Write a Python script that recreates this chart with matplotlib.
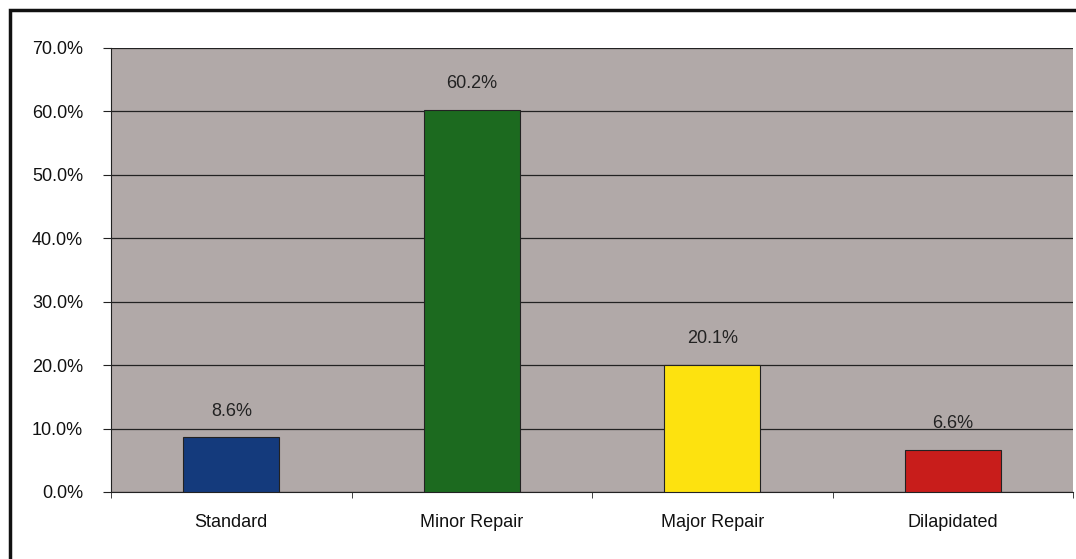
import matplotlib.pyplot as plt
from matplotlib.patches import Rectangle
from matplotlib.ticker import FuncFormatter, FixedLocator, NullFormatter

categories = ["Standard", "Minor Repair", "Major Repair", "Dilapidated"]
values = [8.6, 60.2, 20.1, 6.6]
bar_colors = ["#143a7c", "#1c6a1f", "#fde20f", "#c81d1b"]

plt.rcParams["font.family"] = ["Liberation Sans", "DejaVu Sans"]

fig = plt.figure(figsize=(10.76, 5.59), dpi=100)
ax = fig.add_axes([111 / 1076, 1 - 492 / 559, (1073 - 111) / 1076, (492 - 48) / 559])

# outer frame (runs off the right and bottom edge)
fig.patches.append(Rectangle((10 / 1076, -0.05), 1.1, 1 - 10 / 559 + 0.05,
                             transform=fig.transFigure, fill=False,
                             edgecolor="#111111", linewidth=2.5))

ax.set_facecolor("#b1a9a8")
x = list(range(len(categories)))
ax.bar(x, values, width=0.4, color=bar_colors, edgecolor="#222222", linewidth=0.8, zorder=3)

for xi, v in zip(x, values):
    ax.annotate(f"{v:.1f}%", (xi, v), xytext=(0, 19), textcoords="offset points",
                ha="center", va="center", fontsize=13, color="#222222", zorder=4)

ax.set_xlim(-0.5, len(categories) - 0.5)
ax.set_ylim(0, 70)
ax.set_yticks(range(0, 71, 10))
ax.yaxis.set_major_formatter(FuncFormatter(lambda v, p: f"{v:.1f}%"))
ax.yaxis.grid(True, color="#222222", linewidth=0.9, zorder=1)

ax.set_xticks(x)
ax.set_xticklabels(categories)
ax.tick_params(axis="x", which="major", length=0, pad=16, labelsize=13, labelcolor="#111111")
ax.xaxis.set_minor_locator(FixedLocator([i + 0.5 for i in range(-1, len(categories))]))
ax.xaxis.set_minor_formatter(NullFormatter())
ax.tick_params(axis="x", which="minor", length=4.5, color="#222222")
ax.tick_params(axis="y", length=6, labelsize=13, labelcolor="#111111", color="#222222", pad=14)

for side in ["top", "right"]:
    ax.spines[side].set_visible(False)
ax.spines["left"].set_color("#222222")
ax.spines["bottom"].set_color("#222222")

fig.savefig("out.png", dpi=100)
